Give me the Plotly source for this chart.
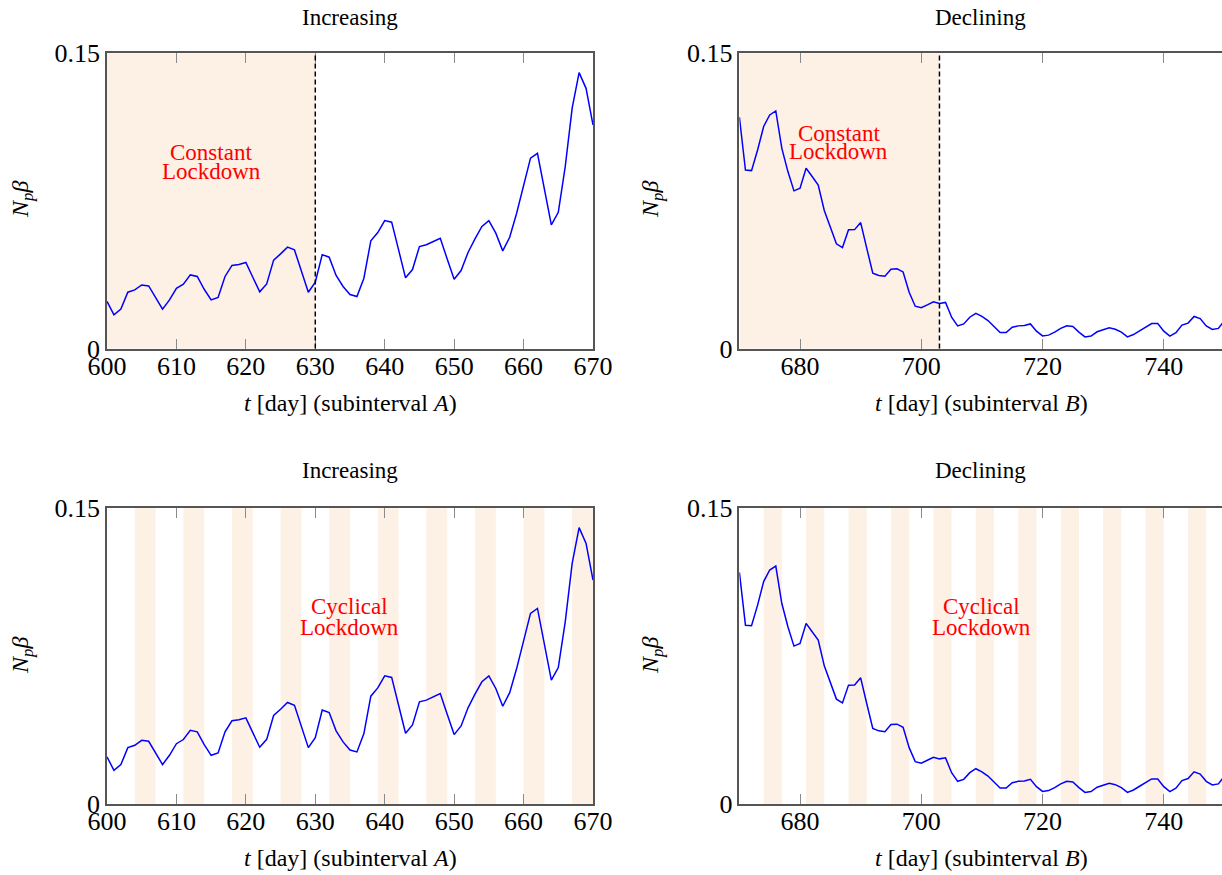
import plotly.graph_objects as go

# ---------------- data ----------------
days_a = list(range(600, 671))
vals_a = [0.0239, 0.0171, 0.0200, 0.0286, 0.0298, 0.0323, 0.0318, 0.0259, 0.0200, 0.0247,
          0.0306, 0.0327, 0.0374, 0.0366, 0.0301, 0.0247, 0.0259, 0.0366, 0.0422, 0.0427,
          0.0437, 0.0362, 0.0288, 0.0328, 0.0449, 0.0481, 0.0515, 0.0501, 0.0394, 0.0286,
          0.0337, 0.0477, 0.0464, 0.0371, 0.0315, 0.0274, 0.0264, 0.0357, 0.0547, 0.0589,
          0.0650, 0.0642, 0.0501, 0.0359, 0.0401, 0.0518, 0.0527, 0.0543, 0.0560, 0.0455,
          0.0352, 0.0396, 0.0488, 0.0557, 0.0620, 0.0650, 0.0586, 0.0496, 0.0565, 0.0687,
          0.0826, 0.0967, 0.0992, 0.0806, 0.0628, 0.0692, 0.0924, 0.1221, 0.1402, 0.1322,
          0.1136]

days_b = list(range(670, 751))
vals_b = [0.1175, 0.0907, 0.0904, 0.1009, 0.1128, 0.1187, 0.1207, 0.1017, 0.0899, 0.0801,
          0.0814, 0.0916, 0.0874, 0.0831, 0.0701, 0.0615, 0.0532, 0.0513, 0.0603, 0.0604,
          0.0640, 0.0510, 0.0383, 0.0371, 0.0367, 0.0403, 0.0405, 0.0389, 0.0286, 0.0215,
          0.0207, 0.0222, 0.0237, 0.0229, 0.0234, 0.0159, 0.0115, 0.0125, 0.0159, 0.0179,
          0.0163, 0.0142, 0.0112, 0.0081, 0.0081, 0.0108, 0.0115, 0.0117, 0.0125, 0.0088,
          0.0064, 0.0068, 0.0083, 0.0102, 0.0115, 0.0112, 0.0083, 0.0059, 0.0063, 0.0085,
          0.0095, 0.0105, 0.0098, 0.0083, 0.0059, 0.0071, 0.0090, 0.0108, 0.0127, 0.0127,
          0.0088, 0.0063, 0.0080, 0.0119, 0.0129, 0.0163, 0.0152, 0.0115, 0.0097, 0.0102,
          0.0142]

constant_a = (600, 630)
constant_b = (670, 703)
cyclic_a = [(604, 607), (611, 614), (618, 621), (625, 628), (632, 635),
            (639, 642), (646, 649), (653, 656), (660, 663), (667, 670)]
cyclic_b = [(674, 677), (681, 684), (688, 691), (695, 698), (702, 705), (709, 712),
            (716, 719), (723, 726), (730, 733), (737, 740), (744, 747)]

xticks_a = [600, 610, 620, 630, 640, 650, 660, 670]
xticks_b = [680, 700, 720, 740]
yticks = [0, 0.15]
yticklabels = ["0", "0.15"]
titles = ["Increasing", "Declining", "Increasing", "Declining"]

# ---------------- style ----------------
W, H = 1222, 875
SERIF = "Liberation Serif, Times New Roman, serif"
SHADE = "#fdf0e4"
AXCOL = "#555555"
TICKCOL = "#8a8a8a"
LINE = "#0000ff"

def px_x(p):
    return p / W

def px_y(p):
    return 1 - p / H

dom_x_left = [px_x(107), px_x(593)]
dom_x_right = [px_x(739.4), 1.0]
dom_y_top = [px_y(348.5), px_y(53.3)]
dom_y_bot = [px_y(804), px_y(508.3)]

fig = go.Figure()

panels = [
    ("x", "y", days_a, vals_a, dom_x_left, dom_y_top, [600, 670], xticks_a, True),
    ("x2", "y2", days_b, vals_b, dom_x_right, dom_y_top, [670, 749.6], xticks_b, False),
    ("x3", "y3", days_a, vals_a, dom_x_left, dom_y_bot, [600, 670], xticks_a, True),
    ("x4", "y4", days_b, vals_b, dom_x_right, dom_y_bot, [670, 749.6], xticks_b, False),
]

layout_axes = {}
for i, (xr, yr, dx, dy, dxd, dyd, xrange_, xt, is_left) in enumerate(panels):
    fig.add_trace(go.Scatter(x=dx, y=dy, mode="lines", xaxis=xr, yaxis=yr,
                             line=dict(color=LINE, width=1.5), showlegend=False,
                             hoverinfo="skip"))
    n = "" if i == 0 else str(i + 1)
    layout_axes["xaxis" + n] = dict(
        domain=dxd, range=xrange_, anchor=yr, tickmode="array", tickvals=xt,
        ticks="inside", ticklen=10, tickwidth=1, tickcolor=TICKCOL,
        showline=True, linecolor=AXCOL, linewidth=1.6, mirror="ticks",
        showgrid=False, zeroline=False, automargin=False, ticklabelstandoff=-7,
        tickfont=dict(family=SERIF, size=26, color="black"),
    )
    layout_axes["yaxis" + n] = dict(
        domain=dyd, range=[0, 0.15], anchor=xr, tickmode="array", tickvals=yticks,
        ticktext=yticklabels, ticks="inside", ticklen=10, tickwidth=1, tickcolor=TICKCOL,
        showline=True, linecolor=AXCOL, linewidth=1.6,
        mirror=("ticks" if is_left else False),
        showgrid=False, zeroline=False, automargin=False,
        tickfont=dict(family=SERIF, size=26, color="black"),
    )

shapes = []
# constant lockdown shading + dashed boundary
for xr, yr, (a, b) in [("x", "y", constant_a), ("x2", "y2", constant_b)]:
    shapes.append(dict(type="rect", xref=xr, yref=yr + " domain", x0=a, x1=b, y0=0, y1=1,
                       fillcolor=SHADE, line=dict(width=0), layer="below"))
    shapes.append(dict(type="line", xref=xr, yref=yr + " domain", x0=b, x1=b, y0=0, y1=1,
                       line=dict(color="black", width=1.5, dash="5px,3px"), layer="above"))
# cyclical lockdown bands
for xr, yr, bands in [("x3", "y3", cyclic_a), ("x4", "y4", cyclic_b)]:
    for a, b in bands:
        shapes.append(dict(type="rect", xref=xr, yref=yr + " domain", x0=a, x1=b, y0=0, y1=1,
                           fillcolor=SHADE, line=dict(width=0), layer="below"))

annotations = []
# panel titles
for t, (xd, yd) in zip(titles, [(dom_x_left, 17), (dom_x_right, 17),
                                (dom_x_left, 470), (dom_x_right, 470)]):
    annotations.append(dict(text=t, x=(xd[0] + xd[1]) / 2, y=px_y(yd), xref="paper", yref="paper",
                            showarrow=False, xanchor="center", yanchor="middle",
                            font=dict(family=SERIF, size=23, color="black")))
# x axis titles
for lab, xd, yd in [("A", dom_x_left, 403), ("B", dom_x_right, 403),
                    ("A", dom_x_left, 858), ("B", dom_x_right, 858)]:
    annotations.append(dict(text="<i>t</i> [day] (subinterval <i>" + lab + "</i>)",
                            x=(xd[0] + xd[1]) / 2 if lab == "A" else px_x(981),
                            y=px_y(yd), xref="paper", yref="paper",
                            showarrow=False, xanchor="center", yanchor="middle",
                            font=dict(family=SERIF, size=24, color="black")))
# y axis titles
for xp, yp in [(22, 200), (652, 200), (22, 656), (652, 656)]:
    annotations.append(dict(text="<i>N</i><sub><i>p</i></sub><i>β</i>", x=px_x(xp), y=px_y(yp),
                            xref="paper", yref="paper", showarrow=False, textangle=-90,
                            xanchor="center", yanchor="middle",
                            font=dict(family=SERIF, size=24, color="black")))
# in-panel labels
for xr, yr, xc, y1, y2, l1 in [("x", "y", 615.0, 0.0994, 0.0897, "Constant"),
                               ("x2", "y2", 686.4, 0.1095, 0.0999, "Constant"),
                               ("x3", "y3", 634.9, 0.1004, 0.0893, "Cyclical"),
                               ("x4", "y4", 709.9, 0.1004, 0.0893, "Cyclical")]:
    for txt, yy in [(l1, y1), ("Lockdown", y2)]:
        annotations.append(dict(text=txt, x=xc, y=yy, xref=xr, yref=yr, showarrow=False,
                                xanchor="center", yanchor="middle",
                                font=dict(family=SERIF, size=23, color="#ff0000")))

fig.update_layout(
    width=W, height=H, margin=dict(l=0, r=0, t=0, b=0, pad=0, autoexpand=False),
    paper_bgcolor="white", plot_bgcolor="white",
    shapes=shapes, annotations=annotations, showlegend=False,
    **layout_axes,
)

fig.write_html("out.html")
